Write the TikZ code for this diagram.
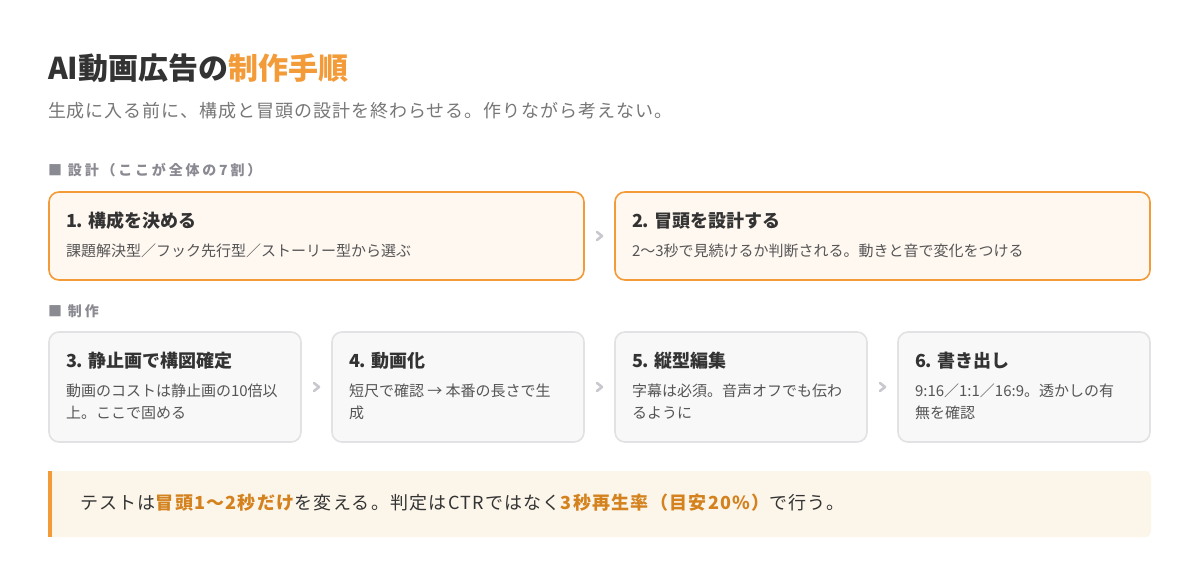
\documentclass[tikz,border=0pt]{standalone}
\usepackage{fontspec}
\setmainfont{Noto Sans CJK JP}
\usetikzlibrary{calc}
\definecolor{ink}{HTML}{333333}
\definecolor{accent}{HTML}{F29B38}
\definecolor{accentdark}{HTML}{D4821E}
\definecolor{subgray}{HTML}{777777}
\definecolor{secgray}{HTML}{8A8A92}
\definecolor{txtgray}{HTML}{555555}
\definecolor{keyfill}{HTML}{FFF8F1}
\definecolor{workfill}{HTML}{F8F8F8}
\definecolor{edgegray}{HTML}{E2E2E4}
\definecolor{chevgray}{HTML}{C8C8CE}
\definecolor{tipfill}{HTML}{FCF5EA}

\begin{document}
\begin{tikzpicture}[x=1pt, y=-1pt,
    every node/.style={inner sep=0pt, outer sep=0pt},
    heading/.style={anchor=base west, text=ink, font=\bfseries\fontsize{30}{36}\selectfont},
    lead/.style={anchor=base west, text=subgray, font=\fontsize{18}{24}\selectfont\addfontfeature{LetterSpace=5.5}},
    sect/.style={anchor=base west, text=secgray, font=\bfseries\fontsize{14}{16}\selectfont\addfontfeature{LetterSpace=20}},
    keybox/.style={draw=accent, line width=1.6pt, fill=keyfill, rounded corners=10pt, anchor=north west, minimum width=535pt, minimum height=88pt},
    workbox/.style={draw=edgegray, line width=1.6pt, fill=workfill, rounded corners=10pt, anchor=north west, minimum width=252pt, minimum height=110pt},
    boxtitle/.style={anchor=base west, text=ink, font=\bfseries\fontsize{18}{22}\selectfont},
    boxtext/.style={anchor=base west, text=txtgray, align=left, font=\fontsize{15}{22}\selectfont},
    chev/.style={draw=chevgray, line width=2.6pt, line cap=round, line join=round},
    tipbox/.style={fill=tipfill, rounded corners=6pt, anchor=north west, minimum width=1103pt, minimum height=66pt},
    tiptext/.style={anchor=base west, text=ink, font=\fontsize{18}{20}\selectfont\addfontfeature{LetterSpace=7}}
]
\useasboundingbox[fill=white] (0,0) rectangle (1200,581);

% heading
\node[heading] (title) at (48,79) {AI動画広告の\textcolor{accent}{制作手順}};
\node[lead] (lead) at (48,117) {生成に入る前に、構成と冒頭の設計を終わらせる。作りながら考えない。};

% design
\node[sect] (sdesign) at (48,175) {■ 設計（ここが全体の7割）};
\node[keybox] (s1) at (49,192) {};
\node[keybox] (s2) at (615,192) {};
\node[boxtitle] (s1t) at ([xshift=17pt,yshift=-35pt]s1.north west) {1. 構成を決める};
\node[boxtext] (s1d) at ([xshift=17pt,yshift=-64pt]s1.north west) {課題解決型／フック先行型／ストーリー型から選ぶ};
\node[boxtitle] (s2t) at ([xshift=17pt,yshift=-35pt]s2.north west) {2. 冒頭を設計する};
\node[boxtext] (s2d) at ([xshift=17pt,yshift=-64pt]s2.north west) {2〜3秒で見続けるか判断される。動きと音で変化をつける};
\draw[chev] ($(s1.east)!.5!(s2.west)$) ++(-2.5pt,-4pt) -- ++(5pt,4pt) -- ++(-5pt,4pt);

% production
\node[sect] (smake) at (48,316) {■ 制作};
\node[workbox] (s3) at (49,332) {};
\node[workbox] (s4) at (332,332) {};
\node[workbox] (s5) at (615,332) {};
\node[workbox] (s6) at (898,332) {};
\node[boxtitle] (s3t) at ([xshift=17pt,yshift=-35pt]s3.north west) {3. 静止画で構図確定};
\node[boxtext] (s3d) at ([xshift=17pt,yshift=-86pt]s3.north west) {動画のコストは静止画の10倍以\\上。ここで固める};
\node[boxtitle] (s4t) at ([xshift=17pt,yshift=-35pt]s4.north west) {4. 動画化};
\node[boxtext] (s4d) at ([xshift=17pt,yshift=-86pt]s4.north west) {短尺で確認 → 本番の長さで生\\成};
\node[boxtitle] (s5t) at ([xshift=17pt,yshift=-35pt]s5.north west) {5. 縦型編集};
\node[boxtext] (s5d) at ([xshift=17pt,yshift=-86pt]s5.north west) {字幕は必須。音声オフでも伝わ\\るように};
\node[boxtitle] (s6t) at ([xshift=17pt,yshift=-35pt]s6.north west) {6. 書き出し};
\node[boxtext] (s6d) at ([xshift=17pt,yshift=-86pt]s6.north west) {9:16／1:1／16:9。透かしの有\\無を確認};
\draw[chev] ($(s3.east)!.5!(s4.west)$) ++(-2.5pt,-4pt) -- ++(5pt,4pt) -- ++(-5pt,4pt);
\draw[chev] ($(s4.east)!.5!(s5.west)$) ++(-2.5pt,-4pt) -- ++(5pt,4pt) -- ++(-5pt,4pt);
\draw[chev] ($(s5.east)!.5!(s6.west)$) ++(-2.5pt,-4pt) -- ++(5pt,4pt) -- ++(-5pt,4pt);

% note
\node[tipbox] (tip) at (48,471) {};
\fill[tipfill] (tip.north west) rectangle ([xshift=10pt]tip.south west);
\fill[accent] (tip.north west) rectangle ([xshift=4pt]tip.south west);
\node[tiptext] (tipt) at (80,509) {テストは\textcolor{accentdark}{\bfseries 冒頭1〜2秒だけ}を変える。判定はCTRではなく\textcolor{accentdark}{\bfseries 3秒再生率（目安20\%）}で行う。};
\end{tikzpicture}
\end{document}
